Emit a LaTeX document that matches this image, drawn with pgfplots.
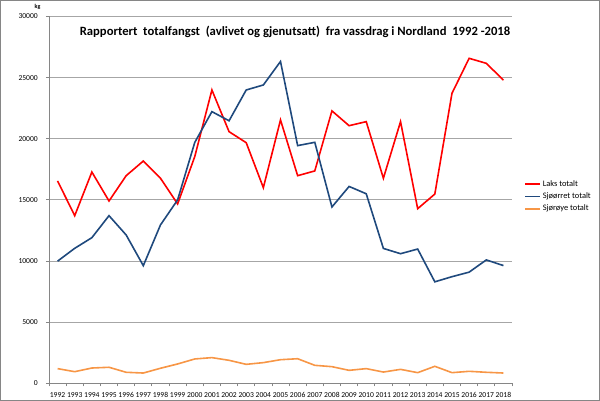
\documentclass[border=0pt]{standalone}
\usepackage{pgfplots}
\pgfplotsset{compat=1.18}
\usepackage{fontspec}
\setmainfont{Carlito}
\definecolor{laks}{HTML}{FF0000}
\definecolor{orret}{HTML}{1F497D}
\definecolor{roye}{HTML}{F79646}
\definecolor{gridc}{HTML}{A6A6A6}
\definecolor{axc}{HTML}{868686}
\begin{document}
\begin{tikzpicture}
\begin{axis}[
  at={(0pt,0pt)}, anchor=south west,
  scale only axis, width=463pt, height=366.8pt,
  xmin=-0.5, xmax=26.5, ymin=0, ymax=30000,
  axis x line*=bottom, axis y line*=left,
  axis line style={axc, line width=0.8pt},
  xtick={0,...,26},
  xticklabels={1992,1993,1994,1995,1996,1997,1998,1999,2000,2001,2002,2003,2004,2005,2006,2007,2008,2009,2010,2011,2012,2013,2014,2015,2016,2017,2018},
  minor xtick={-0.5,0.5,...,26.5},
  every major x tick/.append style={draw=none},
  ytick={0,5000,...,30000},
  tick align=outside, major tick length=3pt, minor tick length=3pt,
  tick style={axc, line width=0.8pt},
  ymajorgrids, major grid style={gridc, line width=0.8pt},
  scaled y ticks=false,
  yticklabel={\pgfmathprintnumber[fixed,1000 sep={}]{\tick}},
  /pgf/number format/assume math mode=true,
  ticklabel style={font=\fontsize{7.6}{8}\selectfont, text=black},
  xticklabel style={anchor=north, text height=5.5pt, text depth=0pt, inner sep=0pt, yshift=-6pt},
  yticklabel style={anchor=east, inner sep=0pt, xshift=-8pt},
  legend style={at={(475pt,205pt)}, anchor=north west, draw=none, fill=none,
    font=\fontsize{8.4}{9}\selectfont, row sep=1pt, inner sep=0pt},
  legend cell align=left,
  legend image code/.code={\draw[#1, line width=1.6pt] (0pt,0pt) -- (15pt,0pt);},
  clip=false,
]
\addplot[laks, line width=1.6pt] coordinates {
(0,16550)(1,13710)(2,17280)(3,14910)(4,16980)(5,18180)(6,16770)(7,14670)(8,18540)(9,23990)
(10,20580)(11,19680)(12,16000)(13,21540)(14,16980)(15,17370)(16,22280)(17,21070)(18,21400)(19,16770)
(20,21400)(21,14280)(22,15480)(23,23720)(24,26580)(25,26170)(26,24800)};
\addlegendentry{Laks totalt}
\addplot[orret, line width=1.6pt] coordinates {
(0,9990)(1,11040)(2,11910)(3,13710)(4,12130)(5,9620)(6,12950)(7,15000)(8,19700)(9,22220)
(10,21470)(11,23990)(12,24400)(13,26320)(14,19440)(15,19710)(16,14420)(17,16100)(18,15500)(19,11030)
(20,10600)(21,10980)(22,8300)(23,8720)(24,9090)(25,10090)(26,9630)};
\addlegendentry{Sjøørret totalt}
\addplot[roye, line width=1.6pt] coordinates {
(0,1200)(1,950)(2,1250)(3,1310)(4,900)(5,840)(6,1230)(7,1580)(8,1990)(9,2100)
(10,1880)(11,1550)(12,1690)(13,1930)(14,2010)(15,1470)(16,1360)(17,1060)(18,1200)(19,920)
(20,1140)(21,870)(22,1390)(23,870)(24,980)(25,900)(26,840)};
\addlegendentry{Sjørøye totalt}
\end{axis}
\draw[axc, line width=0.8pt] (-48.6pt,-17.3pt) rectangle (550.6pt,382.9pt);
\node[anchor=base, font=\bfseries\fontsize{12.65}{14}\selectfont] at (246pt,348pt)
  {Rapportert\ \ totalfangst\ \ (avlivet og gjenutsatt)\ \ fra vassdrag i Nordland\ \ 1992 -2018};
\node[font=\bfseries\fontsize{6}{7}\selectfont] at (-11.5pt,376.6pt) {kg};
\end{tikzpicture}
\end{document}
